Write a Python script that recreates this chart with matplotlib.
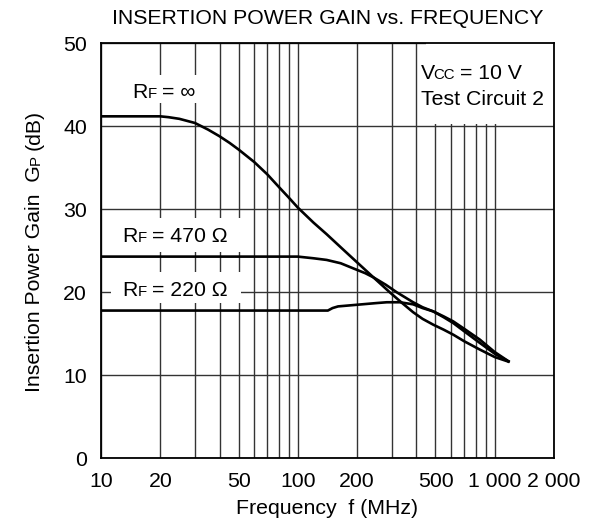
import matplotlib
matplotlib.use("Agg")
import matplotlib.pyplot as plt
from matplotlib.patches import Rectangle
from matplotlib.transforms import IdentityTransform

plt.rcParams["font.family"] = ["Liberation Sans", "DejaVu Sans"]

# (MHz, dB)
f_inf = [10, 20, 22, 25, 30, 35, 40, 45, 50, 60, 70, 80, 90, 100, 120, 140, 169, 200,
         242, 293, 335, 385, 430, 487, 550, 615, 700, 840, 1000, 1190]
g_inf = [41.2, 41.2, 41.1, 40.9, 40.4, 39.6, 38.8, 38.0, 37.2, 35.7, 34.2, 32.7, 31.4, 30.2,
         28.4, 27.0, 25.2, 23.6, 21.8, 20.0, 18.8, 17.6, 16.8, 16.1, 15.5, 14.9, 14.1, 13.1,
         12.2, 11.6]

f_470 = [10, 50, 80, 100, 120, 140, 165, 195, 220, 242, 280, 318, 350, 385, 430, 487,
         550, 615, 700, 840, 1000, 1190]
g_470 = [24.3, 24.3, 24.3, 24.3, 24.1, 23.9, 23.5, 22.8, 22.3, 21.8, 20.9, 20.0, 19.4,
         18.8, 18.2, 17.7, 17.0, 16.3, 15.3, 13.9, 12.6, 11.6]

f_220 = [10, 50, 100, 142, 150, 160, 200, 250, 283, 330, 385, 430, 487, 550, 615, 700,
         840, 1000, 1190]
g_220 = [17.8, 17.8, 17.8, 17.8, 18.1, 18.3, 18.5, 18.7, 18.8, 18.8, 18.55, 18.1, 17.7,
         17.1, 16.5, 15.6, 14.3, 12.8, 11.6]

xticks = [10, 20, 50, 100, 200, 500, 1000, 2000]
xticklabels = ["10", "20", "50", "100", "200", "500", "1 000", "2 000"]
xgrid_minor = [30, 40, 60, 70, 80, 90, 300, 400, 600, 700, 800, 900]
yticks = [0, 10, 20, 30, 40, 50]

BIG = 15.3
SMALL = 10.8

fig = plt.figure(figsize=(5.92, 5.25), dpi=100)
ax = fig.add_axes([101 / 592, 1 - 458.3 / 525, 453 / 592, 415 / 525])
ax.set_xscale("log")
ax.set_xlim(10, 2000)
ax.set_ylim(0, 50)
ax.set_xticks(xticks)
ax.set_xticklabels(xticklabels)
ax.set_xticks(xgrid_minor, minor=True)
ax.set_xticklabels([], minor=True)
ax.set_yticks(yticks)
ax.tick_params(which="both", length=0, labelsize=BIG)
ax.tick_params(axis="x", pad=10)
ax.tick_params(axis="y", pad=10)
ax.set_axisbelow(True)
ax.grid(True, which="both", color="#333333", lw=1.0)
for s in ax.spines.values():
    s.set_linewidth(1.3)

for f, g in [(f_inf, g_inf), (f_470, g_470), (f_220, g_220)]:
    ax.plot(f, g, color="black", lw=1.9, zorder=3, solid_capstyle="butt")

# white boxes behind the labels
boxes = [((12.5, 42.8), (36, 46.2)),
         ((11.2, 24.9), (54, 29.0)),
         ((11.2, 18.7), (51.5, 22.4)),
         ((450, 40.25), (2000, 50))]
for (x0, y0), (x1, y1) in boxes:
    ax.add_patch(Rectangle((x0, y0), x1 - x0, y1 - y0, facecolor="white",
                           edgecolor="none", zorder=1.5))

fig.canvas.draw()
rend = fig.canvas.get_renderer()


def rich(x, y, parts, trans, rotation=0, center=False):
    # parts: (text, size, gap in px before)
    widths = []
    for s, fs, gap in parts:
        t = fig.text(0, 0, s, fontsize=fs)
        widths.append(t.get_window_extent(rend).width)
        t.remove()
    total = sum(widths) + sum(p[2] for p in parts)
    px, py = trans.transform((x, y))
    pos = (py if rotation else px) - (total / 2 if center else 0)
    for (s, fs, gap), w in zip(parts, widths):
        pos += gap
        if rotation:
            fig.text(px, pos, s, fontsize=fs, rotation=90, rotation_mode="anchor",
                     ha="left", va="baseline", transform=IdentityTransform())
        else:
            fig.text(pos, py, s, fontsize=fs, ha="left", va="baseline",
                     transform=IdentityTransform())
        pos += w


rich(14.4, 43.4, [("R", BIG, 0), ("F", SMALL, 0.5), ("= ∞", BIG, 5)], ax.transData)
rich(12.8, 26.0, [("R", BIG, 0), ("F", SMALL, 0.5), ("= 470 Ω", BIG, 5)], ax.transData)
rich(12.8, 19.55, [("R", BIG, 0), ("F", SMALL, 0.5), ("= 220 Ω", BIG, 5)], ax.transData)
rich(420, 45.7, [("V", BIG, 0), ("CC", SMALL, -1.5), ("= 10 V", BIG, 5)], ax.transData)
ax.text(420, 42.6, "Test Circuit 2", fontsize=BIG, ha="left", va="baseline")

rich(40 / 592, 1 - (458.3 + 43.3) / 2 / 525,
     [("Insertion Power Gain  G", BIG, 0), ("P", SMALL, 0.5), ("(dB)", BIG, 5)],
     fig.transFigure, rotation=90, center=True)

fig.text(327.5 / 592, 1 - 509 / 525, "Frequency  f (MHz)", fontsize=BIG,
         ha="center", va="center")
fig.text(327.5 / 592, 1 - 19 / 525, "INSERTION POWER GAIN vs. FREQUENCY",
         fontsize=BIG, ha="center", va="center")

fig.savefig("out.png", dpi=100)
